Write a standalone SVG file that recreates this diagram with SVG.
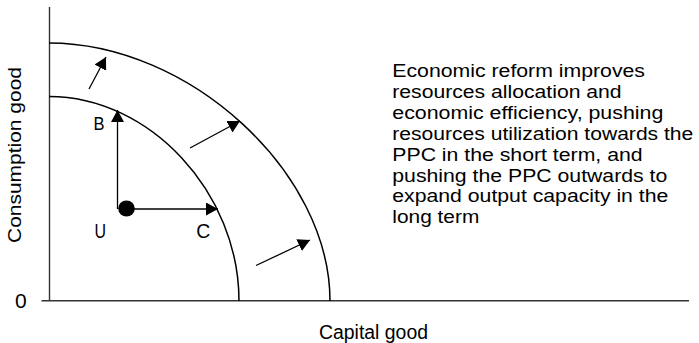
<svg xmlns="http://www.w3.org/2000/svg" width="699" height="343" viewBox="0 0 699 343">
<defs>
<style>
.t{font-family:"Liberation Sans",Arial,sans-serif;fill:#000}
.ax{stroke:#333;stroke-width:1.4;fill:none}
.cv{stroke:#000;stroke-width:1.5;fill:none}
.ar{stroke:#000;stroke-width:1.3;fill:none;marker-end:url(#ah)}
</style>
<marker id="ah" markerUnits="userSpaceOnUse" markerWidth="14" markerHeight="14" refX="12" refY="6.5" orient="auto">
<path d="M0,0 L12,6.5 L0,13 Z" fill="#000"/>
</marker>
</defs>
<rect width="699" height="343" fill="#fff"/>
<g id="axes">
<path class="ax" d="M49.5,7 V301 M41.5,300.7 H689"/>
<text class="t" x="15" y="308" font-size="21">0</text>
<text class="t" x="319" y="339.3" font-size="19.5" textLength="109" lengthAdjust="spacingAndGlyphs">Capital good</text>
<text class="t" transform="translate(20.5,243) rotate(-90)" font-size="18.5" textLength="176" lengthAdjust="spacingAndGlyphs">Consumption good</text>
</g>
<g id="ppc-inner"><path class="cv" d="M49,96.5 C149.7,96.5 239,192.3 239,301"/></g>
<g id="ppc-outer"><path class="cv" d="M49,43 C189.5,43 330,172 330,301"/></g>
<g id="point-U">
<ellipse cx="126.5" cy="208.5" rx="8.3" ry="8" fill="#000"/>
<text class="t" x="94.5" y="237.7" font-size="20" textLength="11.5" lengthAdjust="spacingAndGlyphs">U</text>
</g>
<g id="label-B"><text class="t" x="93.5" y="129.5" font-size="18.5" textLength="11" lengthAdjust="spacingAndGlyphs">B</text></g>
<g id="label-C"><text class="t" x="196.3" y="237.7" font-size="20" textLength="14" lengthAdjust="spacingAndGlyphs">C</text></g>
<g id="connectors">
<path class="ar" d="M117.5,209 V110"/>
<path class="ar" d="M126,209 H218"/>
<path class="ar" d="M89,89 L106,57"/>
<path class="ar" d="M190,148 L240,121"/>
<path class="ar" d="M256,265.5 L310,240"/>
</g>
<g id="note" class="t" font-size="18.3">
<text x="392.3" y="77" textLength="252.7" lengthAdjust="spacingAndGlyphs">Economic reform improves</text>
<text x="392.3" y="97.9" textLength="229.3" lengthAdjust="spacingAndGlyphs">resources allocation and</text>
<text x="392.3" y="118.8" textLength="271" lengthAdjust="spacingAndGlyphs">economic efficiency, pushing</text>
<text x="392.3" y="139.7" textLength="301" lengthAdjust="spacingAndGlyphs">resources utilization towards the</text>
<text x="392.3" y="160.6" textLength="250.3" lengthAdjust="spacingAndGlyphs">PPC in the short term, and</text>
<text x="392.3" y="181.5" textLength="275" lengthAdjust="spacingAndGlyphs">pushing the PPC outwards to</text>
<text x="392.3" y="202.4" textLength="276" lengthAdjust="spacingAndGlyphs">expand output capacity in the</text>
<text x="392.3" y="223.3" textLength="87" lengthAdjust="spacingAndGlyphs">long term</text>
</g>
</svg>
